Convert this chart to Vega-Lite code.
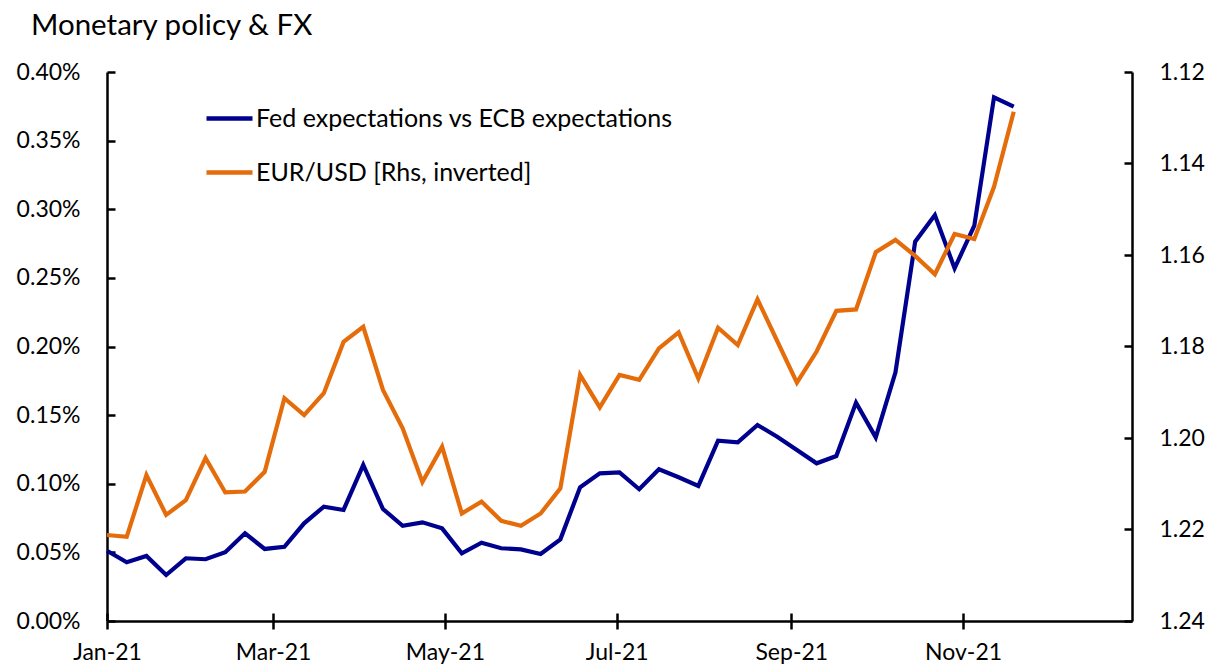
{
  "$schema": "https://vega.github.io/schema/vega-lite/v6.json",
  "autosize": {"type": "none"},
  "width": 1025,
  "height": 549,
  "padding": {"left": 107, "top": 72, "right": 79, "bottom": 48},
  "background": "white",
  "config": {
    "view": {"stroke": null},
    "font": "Lato",
    "axis": {"grid": false, "labelFont": "Lato", "labelFontSize": 23, "labelColor": "black", "domainColor": "black", "tickColor": "black", "domainWidth": 2.5, "tickWidth": 2.5, "title": null}
  },
  "title": {"text": "Monetary policy & FX", "anchor": "start", "frame": "group", "dx": -76, "offset": 20, "fontSize": 29.5, "font": "Lato", "fontWeight": "normal", "color": "black"},
  "data": {"values": [
    {"date": "2021-01-01", "fed": 0.0512, "eur": 1.2212},
    {"date": "2021-01-08", "fed": 0.0428, "eur": 1.2216},
    {"date": "2021-01-15", "fed": 0.0474, "eur": 1.2081},
    {"date": "2021-01-22", "fed": 0.0335, "eur": 1.2168},
    {"date": "2021-01-29", "fed": 0.0457, "eur": 1.2136},
    {"date": "2021-02-05", "fed": 0.0450, "eur": 1.2044},
    {"date": "2021-02-12", "fed": 0.0501, "eur": 1.2119},
    {"date": "2021-02-19", "fed": 0.0639, "eur": 1.2117},
    {"date": "2021-02-26", "fed": 0.0525, "eur": 1.2074},
    {"date": "2021-03-05", "fed": 0.0541, "eur": 1.1913},
    {"date": "2021-03-12", "fed": 0.0712, "eur": 1.1950},
    {"date": "2021-03-19", "fed": 0.0833, "eur": 1.1902},
    {"date": "2021-03-26", "fed": 0.0809, "eur": 1.1790},
    {"date": "2021-04-02", "fed": 0.1137, "eur": 1.1757},
    {"date": "2021-04-09", "fed": 0.0816, "eur": 1.1895},
    {"date": "2021-04-16", "fed": 0.0694, "eur": 1.1979},
    {"date": "2021-04-23", "fed": 0.0719, "eur": 1.2096},
    {"date": "2021-04-30", "fed": 0.0675, "eur": 1.2019},
    {"date": "2021-05-07", "fed": 0.0493, "eur": 1.2165},
    {"date": "2021-05-14", "fed": 0.0570, "eur": 1.2139},
    {"date": "2021-05-21", "fed": 0.0530, "eur": 1.2181},
    {"date": "2021-05-28", "fed": 0.0522, "eur": 1.2192},
    {"date": "2021-06-04", "fed": 0.0488, "eur": 1.2165},
    {"date": "2021-06-11", "fed": 0.0595, "eur": 1.2110},
    {"date": "2021-06-18", "fed": 0.0974, "eur": 1.1862},
    {"date": "2021-06-25", "fed": 0.1076, "eur": 1.1933},
    {"date": "2021-07-02", "fed": 0.1083, "eur": 1.1862},
    {"date": "2021-07-09", "fed": 0.0960, "eur": 1.1873},
    {"date": "2021-07-16", "fed": 0.1105, "eur": 1.1804},
    {"date": "2021-07-23", "fed": 0.1047, "eur": 1.1769},
    {"date": "2021-07-30", "fed": 0.0984, "eur": 1.1870},
    {"date": "2021-08-06", "fed": 0.1314, "eur": 1.1759},
    {"date": "2021-08-13", "fed": 0.1302, "eur": 1.1797},
    {"date": "2021-08-20", "fed": 0.1428, "eur": 1.1697},
    {"date": "2021-08-27", "fed": 0.1343, "eur": 1.1788},
    {"date": "2021-09-03", "fed": 0.1246, "eur": 1.1879},
    {"date": "2021-09-10", "fed": 0.1149, "eur": 1.1811},
    {"date": "2021-09-17", "fed": 0.1202, "eur": 1.1722},
    {"date": "2021-09-24", "fed": 0.1591, "eur": 1.1719},
    {"date": "2021-10-01", "fed": 0.1338, "eur": 1.1594},
    {"date": "2021-10-08", "fed": 0.1812, "eur": 1.1567},
    {"date": "2021-10-15", "fed": 0.2764, "eur": 1.1602},
    {"date": "2021-10-22", "fed": 0.2958, "eur": 1.1642},
    {"date": "2021-10-29", "fed": 0.2570, "eur": 1.1554},
    {"date": "2021-11-05", "fed": 0.2880, "eur": 1.1565},
    {"date": "2021-11-12", "fed": 0.3816, "eur": 1.1451},
    {"date": "2021-11-19", "fed": 0.3747, "eur": 1.1287}
  ]},
  "layer": [
    {
      "mark": {"type": "line", "strokeWidth": 4.2, "strokeJoin": "miter"},
      "encoding": {
        "x": {"field": "date", "type": "temporal",
          "scale": {"type": "utc", "domain": [{"year": 2021, "month": 1, "date": 1, "utc": true}, {"year": 2021, "month": 12, "date": 31, "utc": true}]},
          "axis": {"orient": "bottom", "format": "%b-%y", "tickSize": 8, "labelPadding": 12, "labelFlush": false,
            "values": [{"year": 2021, "month": 1, "date": 1, "utc": true}, {"year": 2021, "month": 3, "date": 1, "utc": true}, {"year": 2021, "month": 5, "date": 1, "utc": true}, {"year": 2021, "month": 7, "date": 1, "utc": true}, {"year": 2021, "month": 9, "date": 1, "utc": true}, {"year": 2021, "month": 11, "date": 1, "utc": true}]}},
        "y": {"field": "fed", "type": "quantitative",
          "scale": {"domain": [0, 0.4]},
          "axis": {"orient": "left", "values": [0, 0.05, 0.1, 0.15, 0.2, 0.25, 0.3, 0.35, 0.4], "labelExpr": "format(datum.value, '.2f') + '%'", "tickSize": -8, "labelPadding": 35}},
        "color": {"datum": "Fed expectations vs ECB expectations", "type": "nominal",
          "scale": {"domain": ["Fed expectations vs ECB expectations", "EUR/USD [Rhs, inverted]"], "range": ["#00008E", "#E46C0A"]},
          "legend": {"title": null, "orient": "none", "legendX": 97, "legendY": 21, "symbolType": "stroke", "symbolSize": 2116, "symbolStrokeWidth": 4.5, "labelFont": "Lato", "labelFontSize": 25, "labelColor": "black", "labelOffset": 1, "rowPadding": 15, "labelLimit": 600}}
      }
    },
    {
      "mark": {"type": "line", "strokeWidth": 4.2, "strokeJoin": "miter"},
      "encoding": {
        "x": {"field": "date", "type": "temporal",
          "axis": {"orient": "bottom", "tickSize": -8, "labels": false, "domain": false,
            "values": [{"year": 2021, "month": 1, "date": 1, "utc": true}, {"year": 2021, "month": 3, "date": 1, "utc": true}, {"year": 2021, "month": 5, "date": 1, "utc": true}, {"year": 2021, "month": 7, "date": 1, "utc": true}, {"year": 2021, "month": 9, "date": 1, "utc": true}, {"year": 2021, "month": 11, "date": 1, "utc": true}]}},
        "y": {"field": "eur", "type": "quantitative",
          "scale": {"domain": [1.12, 1.24], "reverse": true},
          "axis": {"orient": "right", "values": [1.12, 1.14, 1.16, 1.18, 1.2, 1.22, 1.24], "format": ".2f", "tickSize": -8, "labelPadding": 35}},
        "color": {"datum": "EUR/USD [Rhs, inverted]", "type": "nominal"}
      }
    }
  ],
  "resolve": {"scale": {"y": "independent"}, "axis": {"x": "independent"}}
}
